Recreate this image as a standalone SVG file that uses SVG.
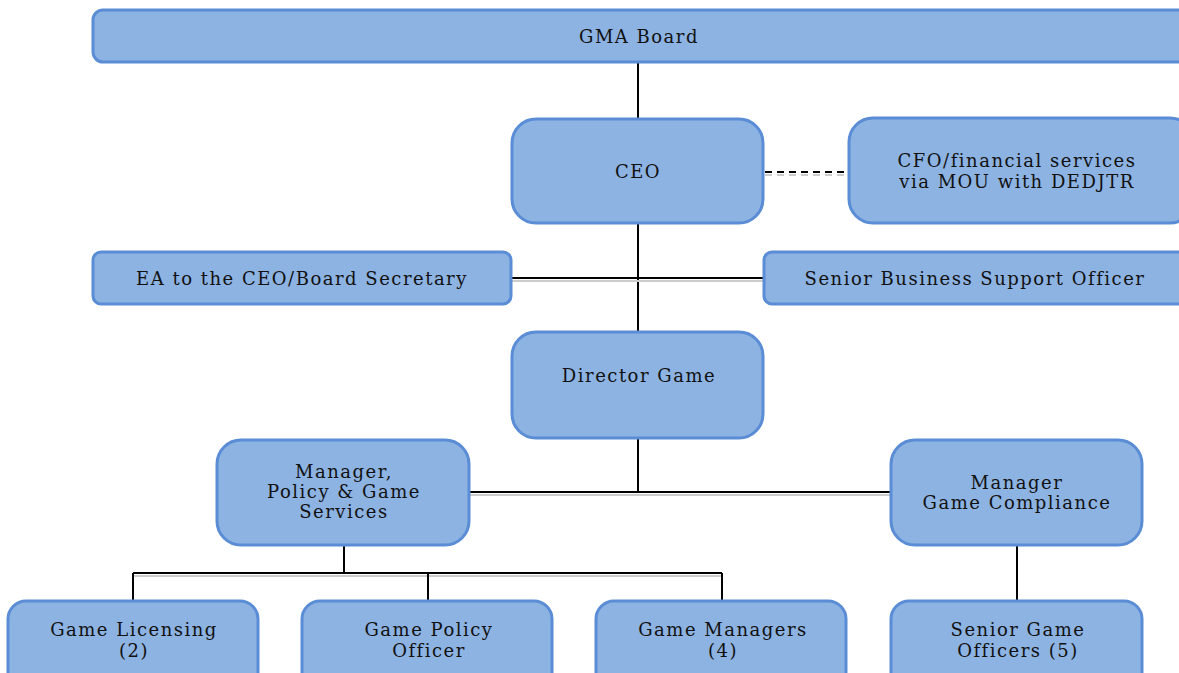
<svg xmlns="http://www.w3.org/2000/svg" width="1179" height="673" viewBox="0 0 1179 673">
<style>
.n rect{fill:#8DB3E2;stroke:#5A8DD5;stroke-width:3}
.n text{font-family:"DejaVu Serif","Liberation Serif",serif;font-size:18px;letter-spacing:1.5px;fill:#111;text-anchor:middle}
.c line{stroke:#000;stroke-width:2}
.c line.s{stroke:#ccc;stroke-width:2}
</style>
<rect width="1179" height="673" fill="#fff"/>
<g class="c">
<line x1="638" y1="62" x2="638" y2="118"/>
<line x1="638" y1="223" x2="638" y2="331"/>
<line class="s" x1="511" y1="281" x2="763" y2="281"/>
<line x1="511" y1="278" x2="763" y2="278"/>
<line class="s" x1="765" y1="175" x2="848" y2="175" stroke-dasharray="7,5"/>
<line x1="765" y1="172" x2="848" y2="172" stroke-dasharray="7,5"/>
<line x1="638" y1="438" x2="638" y2="492"/>
<line class="s" x1="469" y1="495" x2="890" y2="495"/>
<line x1="469" y1="492" x2="890" y2="492"/>
<line x1="344" y1="545" x2="344" y2="573"/>
<line class="s" x1="133" y1="576" x2="722" y2="576"/>
<line x1="133" y1="573" x2="722" y2="573"/>
<line x1="133" y1="573" x2="133" y2="600"/>
<line x1="428" y1="573" x2="428" y2="600"/>
<line x1="722" y1="573" x2="722" y2="600"/>
<line x1="1017" y1="545" x2="1017" y2="600"/>
</g>
<g id="gma" class="n"><rect x="93" y="10" width="1100" height="52" rx="10"/><text x="639" y="43">GMA Board</text></g>
<g id="ceo" class="n"><rect x="512" y="119" width="251" height="104" rx="24"/><text x="638" y="178">CEO</text></g>
<g id="cfo" class="n"><rect x="849" y="118" width="345" height="105" rx="24"/><text x="1017" y="167">CFO/financial services</text><text x="1017" y="188">via MOU with DEDJTR</text></g>
<g id="ea" class="n"><rect x="93" y="252" width="418" height="52" rx="8"/><text x="302" y="285">EA to the CEO/Board Secretary</text></g>
<g id="sbso" class="n"><rect x="764" y="252" width="430" height="52" rx="8"/><text x="975" y="285">Senior Business Support Officer</text></g>
<g id="dir" class="n"><rect x="512" y="332" width="251" height="106" rx="24"/><text x="639" y="382">Director Game</text></g>
<g id="mpgs" class="n"><rect x="217" y="440" width="252" height="105" rx="24"/><text x="344" y="478">Manager,</text><text x="344" y="498">Policy &amp; Game</text><text x="344" y="518">Services</text></g>
<g id="mgc" class="n"><rect x="891" y="440" width="251" height="105" rx="24"/><text x="1017" y="489">Manager</text><text x="1017" y="509">Game Compliance</text></g>
<g id="gl" class="n"><rect x="8" y="601" width="250" height="90" rx="18"/><text x="134" y="636">Game Licensing</text><text x="134" y="657">(2)</text></g>
<g id="gpo" class="n"><rect x="302" y="601" width="250" height="90" rx="18"/><text x="429" y="636">Game Policy</text><text x="429" y="657">Officer</text></g>
<g id="gm" class="n"><rect x="596" y="601" width="250" height="90" rx="18"/><text x="723" y="636">Game Managers</text><text x="723" y="657">(4)</text></g>
<g id="sgo" class="n"><rect x="891" y="601" width="251" height="90" rx="18"/><text x="1018" y="636">Senior Game</text><text x="1018" y="657">Officers (5)</text></g>
</svg>
